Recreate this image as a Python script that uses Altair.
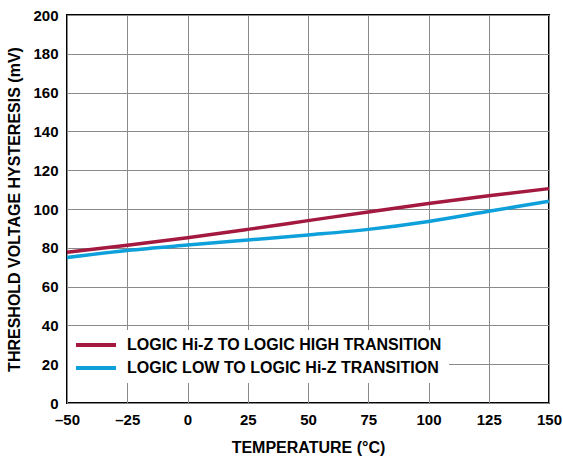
import altair as alt
import pandas as pd

# Temperature sweep (°C) and measured hysteresis (mV) for each transition
temperature = [-50, -25, 0, 25, 50, 75, 100, 125, 150]
hiz_to_high = [77.7, 81.3, 85.2, 89.5, 94.0, 98.5, 102.8, 106.8, 110.5]
low_to_hiz = [75.0, 78.6, 81.4, 84.0, 86.6, 89.5, 93.6, 98.8, 104.0]

series_names = [
    "LOGIC Hi-Z TO LOGIC HIGH TRANSITION",
    "LOGIC LOW TO LOGIC Hi-Z TRANSITION",
]
series_colors = ["#A4193F", "#0EA0DA"]

x_ticks = [-50, -25, 0, 25, 50, 75, 100, 125, 150]
y_ticks = [0, 20, 40, 60, 80, 100, 120, 140, 160, 180, 200]

rows = []
for name, values in zip(series_names, [hiz_to_high, low_to_hiz]):
    for t, v in zip(temperature, values):
        rows.append({"temp": t, "hyst": v, "series": name})
df = pd.DataFrame(rows)

FONT = "Liberation Sans"

# A short line segment as the legend swatch, extending to the right of its anchor
swatch_path = "M-1.75,0H8.25"

chart = (
    alt.Chart(df)
    .mark_line(strokeWidth=3.5, interpolate="monotone")
    .encode(
        x=alt.X(
            "temp:Q",
            scale=alt.Scale(domain=[-50, 150], nice=False, zero=False),
            axis=alt.Axis(
                values=x_ticks,
                labelExpr="datum.value < 0 ? '\u2013' + abs(datum.value) : datum.value",
                labelFlush=False,
                title="TEMPERATURE (°C)",
                titlePadding=12,
            ),
        ),
        y=alt.Y(
            "hyst:Q",
            scale=alt.Scale(domain=[0, 200], nice=False),
            axis=alt.Axis(
                values=y_ticks,
                labelFlush=False,
                title="THRESHOLD VOLTAGE HYSTERESIS (mV)",
                titlePadding=10,
            ),
        ),
        color=alt.Color(
            "series:N",
            scale=alt.Scale(domain=series_names, range=series_colors),
            sort=series_names,
            legend=alt.Legend(
                title=None,
                orient="none",
                legendX=1,
                legendY=315,
                fillColor="white",
                padding=7,
                symbolType=swatch_path,
                symbolStrokeWidth=4,
                symbolSize=64,
                labelFont=FONT,
                labelFontSize=16,
                labelFontWeight="bold",
                labelColor="black",
                labelOffset=36,
                labelLimit=0,
                rowPadding=7,
            ),
        ),
    )
    .properties(
        width=482,
        height=388,
        autosize=alt.AutoSizeParams(type="none"),
        padding={"left": 67, "top": 15, "right": 14, "bottom": 56},
    )
    .configure_view(stroke="black", strokeWidth=2)
    .configure_axis(
        grid=True,
        gridColor="#8a8a8a",
        gridWidth=1,
        gridOpacity=1,
        domain=False,
        ticks=False,
        labelFont=FONT,
        labelFontSize=15,
        labelFontWeight="bold",
        labelColor="black",
        labelPadding=9,
        titleFont=FONT,
        titleFontSize=16,
        titleFontWeight="bold",
        titleColor="black",
    )
)

chart.save("out.html", embed_options={"renderer": "svg", "actions": False})
